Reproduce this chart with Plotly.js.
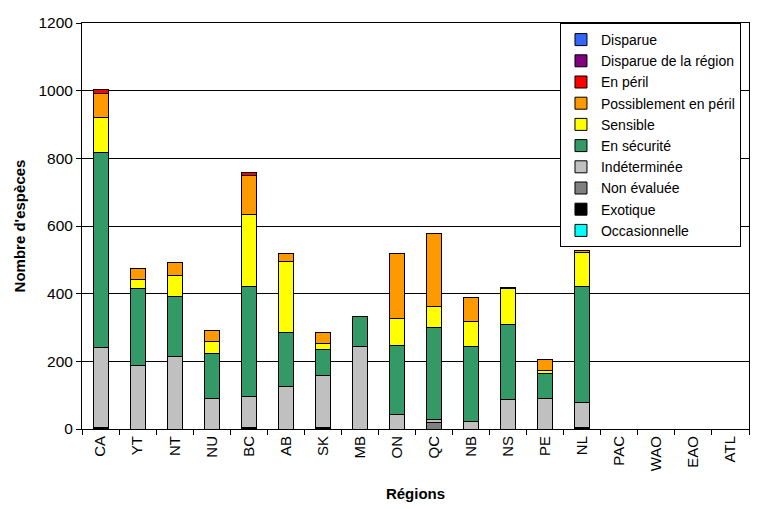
<!DOCTYPE html>
<html>
<head>
<meta charset="utf-8">
<script src="https://cdn.plot.ly/plotly-3.0.1.min.js"></script>
<style>html,body{margin:0;padding:0;background:#fff;}#chart{width:759px;height:509px;}</style>
</head>
<body>
<div id="chart"></div>
<script>
const regions = ["CA","YT","NT","NU","BC","AB","SK","MB","ON","QC","NB","NS","PE","NL","PAC","WAO","EAO","ATL"];
const _ = null;
// stacked bottom-to-top
const occasionnelle   = [_,_,_,_,_,_,_,_,_,_,_,_,_,_,_,_,_,_];
const exotique        = [4,_,_,_,3,_,3,_,_,_,_,_,_,3,_,_,_,_];
const nonEvaluee      = [_,_,_,_,_,_,_,_,_,18,_,_,_,_,_,_,_,_];
const indeterminee    = [236,188,213,89,92,125,155,243,42,9,21,86,89,74,_,_,_,_];
const enSecurite      = [578,227,180,133,327,159,76,91,206,272,222,224,74,345,_,_,_,_];
const sensible        = [102,28,62,38,213,212,20,_,80,62,76,105,9,101,_,_,_,_];
const possiblement    = [71,30,38,30,115,24,32,_,192,218,71,3,32,6,_,_,_,_];
const enPeril         = [12,_,_,_,9,_,_,_,_,_,_,_,_,_,_,_,_,_];
const disparueRegion  = [_,_,_,_,_,_,_,_,_,_,_,_,_,_,_,_,_,_];
const disparue        = [_,_,_,_,_,_,_,_,_,_,_,_,_,_,_,_,_,_];

const seriesNames  = ["Occasionnelle","Exotique","Non évaluée","Indéterminée","En sécurité","Sensible","Possiblement en péril","En péril","Disparue de la région","Disparue"];
const seriesValues = [occasionnelle,exotique,nonEvaluee,indeterminee,enSecurite,sensible,possiblement,enPeril,disparueRegion,disparue];
const seriesColors = ["#00FFFF","#000000","#808080","#C0C0C0","#339966","#FFFF00","#FF9900","#FF0000","#800080","#3366FF"];

const traces = seriesNames.map((n,i)=>({
  type:'bar', name:n, x:regions, y:seriesValues[i],
  marker:{color:seriesColors[i], line:{color:'#000', width:1}},
  hoverinfo:'skip'
}));

const font = "Liberation Sans, Arial, sans-serif";
const layout = {
  width:759, height:509,
  margin:{l:82, r:10, t:23, b:80},
  barmode:'stack', bargap:0.595,
  paper_bgcolor:'#fff', plot_bgcolor:'#fff',
  font:{family:font, size:15, color:'#000'},
  xaxis:{
    type:'category', categoryorder:'array', categoryarray:regions,
    range:[-0.5,17.5], tickangle:-90, ticks:'outside', ticklen:5, tickcolor:'#000',
    tickson:'boundaries', showline:true, linecolor:'#000', linewidth:1, mirror:true,
    showgrid:false, tickfont:{size:15},
    title:{text:'<b>Régions</b>', font:{size:15}, standoff:18}
  },
  yaxis:{
    range:[0,1200], dtick:200, ticks:'outside', ticklen:5, tickcolor:'#000',
    showline:true, linecolor:'#000', linewidth:1, mirror:true,
    showgrid:true, gridcolor:'#000', gridwidth:1, zeroline:false,
    tickfont:{size:15.5},
    title:{text:"<b>Nombre d'espèces</b>", font:{size:15}, standoff:9}
  },
  legend:{
    x:0.7166, y:1, xanchor:'left', yanchor:'top', traceorder:'reversed',
    bgcolor:'#fff', bordercolor:'#000', borderwidth:1,
    font:{size:14}, itemwidth:30
  },
  showlegend:true
};
Plotly.newPlot('chart', traces, layout, {displayModeBar:false, staticPlot:true});
</script>
</body>
</html>
